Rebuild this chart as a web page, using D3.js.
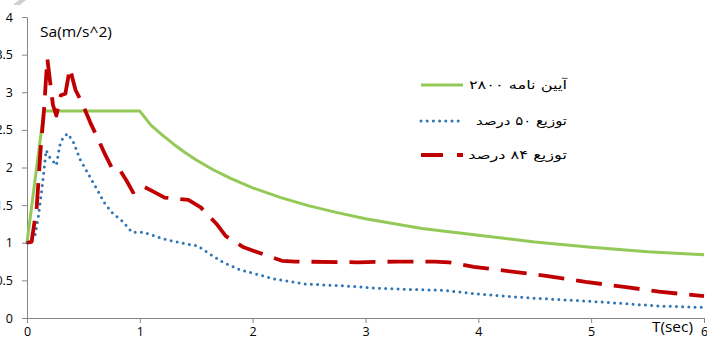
<!DOCTYPE html>
<html>
<head>
<meta charset="utf-8">
<script src="https://cdn.jsdelivr.net/npm/d3@7/dist/d3.min.js"></script>
<style>
  html, body { margin: 0; padding: 0; background: #fff; overflow: hidden; }
  svg { display: block; }
  .tick text { font-family: "Open Sans", sans-serif; font-size: 12.5px; fill: #000; }
</style>
</head>
<body>
<svg id="chart" width="707" height="342"></svg>
<script>
// Design spectrum of the Iranian code (Standard 2800)
const periods2800 = [0, 0.15, 1.0, 1.1, 1.2, 1.3, 1.4, 1.5, 1.65, 1.8, 2.0, 2.25, 2.5, 2.75, 3.0, 3.5, 4.0, 4.5, 5.0, 5.5, 6.0];
const sa2800      = [1.0, 2.75, 2.75, 2.56, 2.43, 2.31, 2.20, 2.10, 1.97, 1.86, 1.73, 1.60, 1.49, 1.40, 1.32, 1.19, 1.10, 1.01, 0.94, 0.88, 0.84];

// 50th percentile spectrum
const periods50 = [0, 0.04, 0.07, 0.10, 0.13, 0.17, 0.20, 0.26, 0.29, 0.32, 0.36, 0.41, 0.47, 0.56, 0.62, 0.69, 0.76, 0.85, 0.93, 1.03, 1.21, 1.39, 1.51, 1.62, 1.74, 1.89, 2.04, 2.19, 2.48, 2.78, 3.07, 3.37, 3.67, 3.99, 4.42, 5.01, 5.6, 6.0];
const sa50      = [1.0, 1.02, 1.09, 1.34, 1.69, 2.23, 2.14, 2.03, 2.29, 2.40, 2.45, 2.34, 2.11, 1.87, 1.71, 1.52, 1.39, 1.28, 1.14, 1.14, 1.05, 0.99, 0.96, 0.85, 0.74, 0.64, 0.58, 0.52, 0.45, 0.43, 0.40, 0.38, 0.37, 0.32, 0.27, 0.22, 0.16, 0.14];

// 84th percentile spectrum
const periods84 = [0, 0.04, 0.086, 0.12, 0.15, 0.18, 0.23, 0.26, 0.30, 0.34, 0.38, 0.43, 0.49, 0.56, 0.62, 0.69, 0.75, 0.81, 0.88, 0.94, 1.03, 1.12, 1.22, 1.43, 1.54, 1.68, 1.76, 1.92, 2.05, 2.26, 2.38, 2.93, 3.28, 3.61, 3.74, 3.96, 4.07, 4.6, 4.95, 5.31, 5.6, 6.0];
const sa84      = [1.0, 1.01, 1.47, 2.23, 2.75, 3.45, 2.83, 2.69, 2.96, 2.98, 3.32, 3.03, 2.85, 2.60, 2.41, 2.18, 2.00, 2.00, 1.83, 1.67, 1.75, 1.68, 1.60, 1.57, 1.47, 1.25, 1.09, 0.94, 0.87, 0.76, 0.75, 0.74, 0.75, 0.75, 0.74, 0.68, 0.66, 0.56, 0.48, 0.41, 0.35, 0.29];

const xTicks = [0, 1, 2, 3, 4, 5, 6];
const yTicks = [0, 0.5, 1, 1.5, 2, 2.5, 3, 3.5, 4];

const legendLabels = ["آیین نامه ۲۸۰۰", "توزیع ۵۰ درصد", "توزیع ۸۴ درصد"];

const svg = d3.select("#chart");

const x = d3.scaleLinear().domain([0, 6]).range([27, 704]);
const y = d3.scaleLinear().domain([0, 4]).range([318, 17]);

const axisColor = "#868686";

// faint grey mark at the top-left corner
svg.append("path")
  .attr("d", "M13,5 L19,0 L26,0 L20,5 Z")
  .attr("fill", "#cfcfcf");

// x axis
const gx = svg.append("g")
  .attr("transform", `translate(0,${y(0)})`)
  .call(d3.axisBottom(x).tickValues(xTicks).tickSize(5).tickSizeOuter(0).tickPadding(4)
        .tickFormat(d3.format("d")));
gx.select(".domain").attr("stroke", axisColor);
gx.selectAll(".tick line").attr("stroke", axisColor);

// y axis
const gy = svg.append("g")
  .attr("transform", `translate(${x(0)},0)`)
  .call(d3.axisLeft(y).tickValues(yTicks).tickSize(5).tickSizeOuter(0).tickPadding(9)
        .tickFormat(d => String(d)));
gy.select(".domain").attr("stroke", axisColor);
gy.selectAll(".tick line").attr("stroke", axisColor);

// text stretched horizontally to a given width, anchored at its left or right edge
function wideText(str, ax, ay, width, anchor, family, size) {
  const g = svg.append("g");
  const t = g.append("text")
    .attr("text-anchor", anchor)
    .attr("font-family", family).attr("font-size", size)
    .text(str);
  const w = t.node().getBBox().width || width;
  g.attr("transform", `translate(${ax},${ay}) scale(${width / w},1)`);
  return t;
}

// axis titles
wideText("Sa(m/s^2)", 40, 37, 72, "start", "Open Sans, sans-serif", 14.5);
wideText("T(sec)", 652, 332, 41, "start", "Open Sans, sans-serif", 14.5);

const line = d3.line().x(d => x(d[0])).y(d => y(d[1]));
const toPts = (ts, vs) => ts.map((t, i) => [t, vs[i]]);

const series = [
  { pts: toPts(periods2800, sa2800), color: "#92c957", width: 3, dash: null, cap: "butt" },
  { pts: toPts(periods50, sa50), color: "#2f75b5", width: 3, dash: "0,6.2", cap: "round" },
  { pts: toPts(periods84, sa84), color: "#c00000", width: 3.8, dash: "26,12", cap: "butt" }
];

series.forEach(s => {
  svg.append("path")
    .datum(s.pts)
    .attr("d", line)
    .attr("fill", "none")
    .attr("stroke", s.color)
    .attr("stroke-width", s.width)
    .attr("stroke-linecap", s.cap)
    .attr("stroke-linejoin", "round")
    .attr("stroke-dasharray", s.dash);
});

// legend
const legendY = [85, 121, 155];
const legendDash = [null, "0,6.2", "22,14"];
const legendTextLen = [99, 91, 99];
series.forEach((s, i) => {
  svg.append("line")
    .attr("x1", 421).attr("x2", 463)
    .attr("y1", legendY[i]).attr("y2", legendY[i])
    .attr("stroke", s.color)
    .attr("stroke-width", s.width)
    .attr("stroke-linecap", s.cap)
    .attr("stroke-dasharray", legendDash[i]);
  wideText(legendLabels[i], 567, legendY[i] + 4, legendTextLen[i], "end",
           "DejaVu Sans, sans-serif", 12);
});
</script>
</body>
</html>
